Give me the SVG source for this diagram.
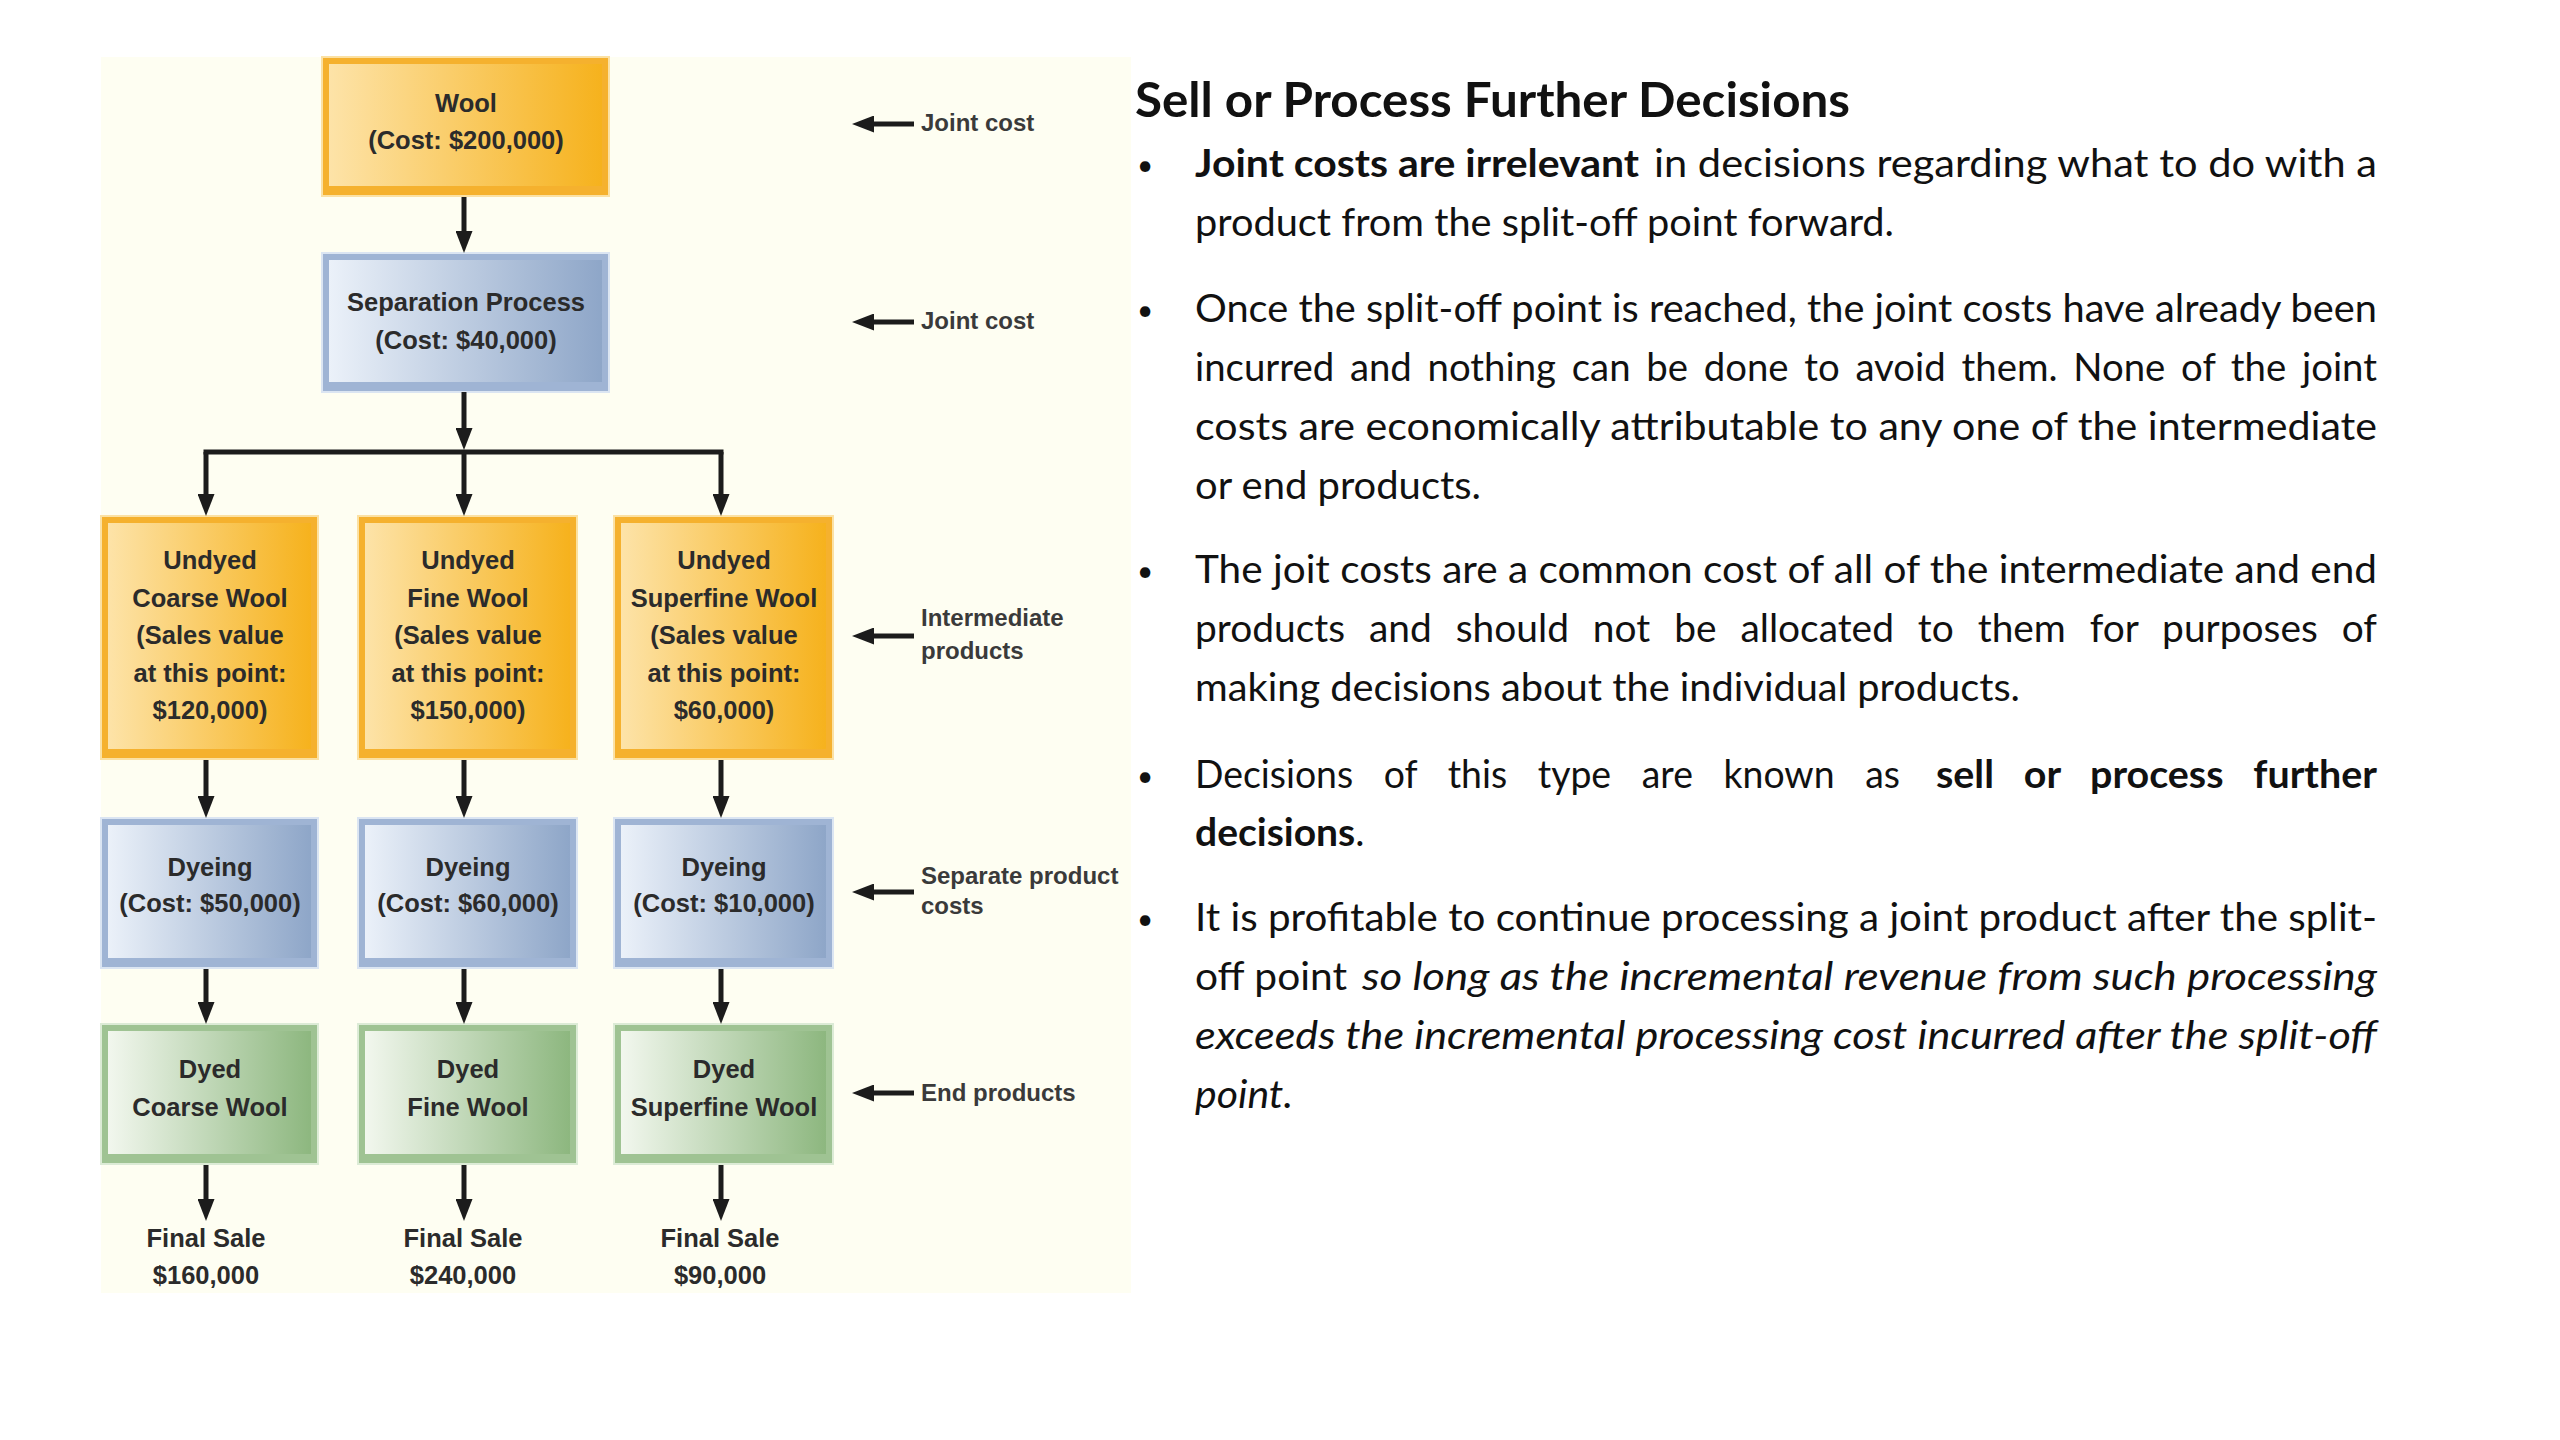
<svg xmlns="http://www.w3.org/2000/svg" width="2560" height="1440" viewBox="0 0 2560 1440">
<defs>
<linearGradient id="gO" x1="0" y1="0" x2="1" y2="0"><stop offset="0" stop-color="#fde3a8"/><stop offset="1" stop-color="#f6b21d"/></linearGradient>
<linearGradient id="gB" x1="0" y1="0" x2="1" y2="0"><stop offset="0" stop-color="#ebf1f9"/><stop offset="1" stop-color="#8ea6c8"/></linearGradient>
<linearGradient id="gG" x1="0" y1="0" x2="1" y2="0"><stop offset="0" stop-color="#f2f7ee"/><stop offset="1" stop-color="#8db77f"/></linearGradient>
<marker id="ah" viewBox="0 0 10 10" refX="5" refY="5" markerWidth="22" markerHeight="17" markerUnits="userSpaceOnUse" orient="auto" preserveAspectRatio="none"><path d="M0,0 L10,5 L0,10 z" fill="#1c1c1c"/></marker>
<style>
.fo{fill:#f5b12e;stroke:#fbe1a4;stroke-width:2}
.io{fill:url(#gO)}
.fb{fill:#9fb4d4;stroke:#dbe5f2;stroke-width:2}
.ib{fill:url(#gB)}
.fg{fill:#9fc393;stroke:#dcebd6;stroke-width:2}
.ig{fill:url(#gG)}
.bt{font-family:"Liberation Sans",Arial,sans-serif;font-weight:bold;font-size:25.5px;fill:#2b2b2b;text-anchor:middle}
.lb{font-family:"Liberation Sans",Arial,sans-serif;font-weight:bold;font-size:24px;fill:#3a3a3a}
.con{stroke:#1c1c1c;stroke-width:5;fill:none}
.arr{marker-end:url(#ah)}
.tx{font-family:Lato,"Open Sans",sans-serif;font-size:39px;fill:#111}
.bu{font-family:Lato,"Open Sans",sans-serif;font-size:28px;fill:#111}
.ttl{font-family:Lato,"Open Sans",sans-serif;font-size:48px;font-weight:bold;fill:#111}
.b{font-weight:bold}
.i{font-style:italic}
</style>
</defs>
<rect x="0" y="0" width="2560" height="1440" fill="#ffffff"/>
<rect x="101" y="57" width="1030" height="1236" fill="#fefef2"/>

<g id="n-wool">
<rect class="fo" x="322" y="57" width="287" height="139"/>
<rect class="io" x="329" y="64" width="273" height="122"/>
<text class="bt" x="466" y="112">Wool</text>
<text class="bt" x="466" y="149">(Cost: $200,000)</text>
</g>
<g id="n-separation">
<rect class="fb" x="322" y="253" width="287" height="139"/>
<rect class="ib" x="329" y="260" width="273" height="122"/>
<text class="bt" x="466" y="311">Separation Process</text>
<text class="bt" x="466" y="349">(Cost: $40,000)</text>
</g>

<g id="n-undyed-coarse">
<rect class="fo" x="101" y="516" width="217" height="243"/>
<rect class="io" x="108" y="523" width="203" height="226"/>
<text class="bt" x="210" y="569">Undyed</text>
<text class="bt" x="210" y="607">Coarse Wool</text>
<text class="bt" x="210" y="644">(Sales value</text>
<text class="bt" x="210" y="682">at this point:</text>
<text class="bt" x="210" y="719">$120,000)</text>
</g>
<g id="n-undyed-fine">
<rect class="fo" x="358" y="516" width="219" height="243"/>
<rect class="io" x="365" y="523" width="205" height="226"/>
<text class="bt" x="468" y="569">Undyed</text>
<text class="bt" x="468" y="607">Fine Wool</text>
<text class="bt" x="468" y="644">(Sales value</text>
<text class="bt" x="468" y="682">at this point:</text>
<text class="bt" x="468" y="719">$150,000)</text>
</g>
<g id="n-undyed-superfine">
<rect class="fo" x="614" y="516" width="219" height="243"/>
<rect class="io" x="621" y="523" width="205" height="226"/>
<text class="bt" x="724" y="569">Undyed</text>
<text class="bt" x="724" y="607">Superfine Wool</text>
<text class="bt" x="724" y="644">(Sales value</text>
<text class="bt" x="724" y="682">at this point:</text>
<text class="bt" x="724" y="719">$60,000)</text>
</g>

<g id="n-dyeing-coarse">
<rect class="fb" x="101" y="818" width="217" height="150"/>
<rect class="ib" x="108" y="825" width="203" height="133"/>
<text class="bt" x="210" y="876">Dyeing</text>
<text class="bt" x="210" y="912">(Cost: $50,000)</text>
</g>
<g id="n-dyeing-fine">
<rect class="fb" x="358" y="818" width="219" height="150"/>
<rect class="ib" x="365" y="825" width="205" height="133"/>
<text class="bt" x="468" y="876">Dyeing</text>
<text class="bt" x="468" y="912">(Cost: $60,000)</text>
</g>
<g id="n-dyeing-superfine">
<rect class="fb" x="614" y="818" width="219" height="150"/>
<rect class="ib" x="621" y="825" width="205" height="133"/>
<text class="bt" x="724" y="876">Dyeing</text>
<text class="bt" x="724" y="912">(Cost: $10,000)</text>
</g>

<g id="n-dyed-coarse">
<rect class="fg" x="101" y="1024" width="217" height="140"/>
<rect class="ig" x="108" y="1031" width="203" height="123"/>
<text class="bt" x="210" y="1078">Dyed</text>
<text class="bt" x="210" y="1116">Coarse Wool</text>
</g>
<g id="n-dyed-fine">
<rect class="fg" x="358" y="1024" width="219" height="140"/>
<rect class="ig" x="365" y="1031" width="205" height="123"/>
<text class="bt" x="468" y="1078">Dyed</text>
<text class="bt" x="468" y="1116">Fine Wool</text>
</g>
<g id="n-dyed-superfine">
<rect class="fg" x="614" y="1024" width="219" height="140"/>
<rect class="ig" x="621" y="1031" width="205" height="123"/>
<text class="bt" x="724" y="1078">Dyed</text>
<text class="bt" x="724" y="1116">Superfine Wool</text>
</g>

<g id="n-final-coarse"><text class="bt" x="206" y="1247">Final Sale</text><text class="bt" x="206" y="1284">$160,000</text></g>
<g id="n-final-fine"><text class="bt" x="463" y="1247">Final Sale</text><text class="bt" x="463" y="1284">$240,000</text></g>
<g id="n-final-superfine"><text class="bt" x="720" y="1247">Final Sale</text><text class="bt" x="720" y="1284">$90,000</text></g>

<g id="labels">
<text class="lb" x="921" y="131">Joint cost</text>
<text class="lb" x="921" y="329">Joint cost</text>
<text class="lb" x="921" y="626">Intermediate</text>
<text class="lb" x="921" y="659">products</text>
<text class="lb" x="921" y="884">Separate product</text>
<text class="lb" x="921" y="914">costs</text>
<text class="lb" x="921" y="1101">End products</text>
</g>

<g id="connectors">
<path class="con arr" d="M464,197 V242"/>
<path class="con arr" d="M464,392 V439"/>
<path class="con" d="M206,452 H721" stroke-linecap="square"/>
<path class="con arr" d="M206,452 V505"/>
<path class="con arr" d="M464,452 V505"/>
<path class="con arr" d="M721,452 V505"/>
<path class="con arr" d="M206,760 V807"/>
<path class="con arr" d="M464,760 V807"/>
<path class="con arr" d="M721,760 V807"/>
<path class="con arr" d="M206,969 V1013"/>
<path class="con arr" d="M464,969 V1013"/>
<path class="con arr" d="M721,969 V1013"/>
<path class="con arr" d="M206,1165 V1210"/>
<path class="con arr" d="M464,1165 V1210"/>
<path class="con arr" d="M721,1165 V1210"/>
<path class="con arr" d="M914,124 H863"/>
<path class="con arr" d="M914,322 H863"/>
<path class="con arr" d="M914,636 H863"/>
<path class="con arr" d="M914,892 H863"/>
<path class="con arr" d="M914,1093 H863"/>
</g>

<g id="text-panel">
<text class="ttl" x="1135" y="117" textLength="715" lengthAdjust="spacingAndGlyphs">Sell or Process Further Decisions</text>
<text class="bu" x="1137" y="175">•</text>
<text class="bu" x="1137" y="320">•</text>
<text class="bu" x="1137" y="581">•</text>
<text class="bu" x="1137" y="786">•</text>
<text class="bu" x="1137" y="929">•</text>
<text class="tx b" x="1195" y="177" textLength="444" lengthAdjust="spacingAndGlyphs">Joint costs are irrelevant</text>
<text class="tx" x="1654" y="177" textLength="723" lengthAdjust="spacingAndGlyphs">in decisions regarding what to do with a</text>
<text class="tx" x="1195" y="236" textLength="699" lengthAdjust="spacingAndGlyphs">product from the split-off point forward.</text>
<text class="tx" x="1195" y="322" textLength="1182" lengthAdjust="spacingAndGlyphs">Once the split-off point is reached, the joint costs have already been</text>
<text class="tx" x="1195" y="381" textLength="1182" lengthAdjust="spacingAndGlyphs" word-spacing="6">incurred and nothing can be done to avoid them.  None of the joint</text>
<text class="tx" x="1195" y="440" textLength="1182" lengthAdjust="spacingAndGlyphs">costs are economically attributable to any one of the intermediate</text>
<text class="tx" x="1195" y="499" textLength="286" lengthAdjust="spacingAndGlyphs">or end products.</text>
<text class="tx" x="1195" y="583" textLength="1182" lengthAdjust="spacingAndGlyphs">The joit costs are a common cost of all of the intermediate and end</text>
<text class="tx" x="1195" y="642" textLength="1182" lengthAdjust="spacingAndGlyphs" word-spacing="14">products and should not be allocated to them for purposes of</text>
<text class="tx" x="1195" y="701" textLength="825" lengthAdjust="spacingAndGlyphs">making decisions about the individual products.</text>
<text class="tx" x="1195" y="788" textLength="705" lengthAdjust="spacingAndGlyphs" word-spacing="22">Decisions of this type are known as</text>
<text class="tx b" x="1936" y="788" textLength="441" lengthAdjust="spacingAndGlyphs" word-spacing="20">sell or process further</text>
<text class="tx" x="1195" y="846"><tspan class="b">decisions</tspan>.</text>
<text class="tx" x="1195" y="931" textLength="1182" lengthAdjust="spacingAndGlyphs">It is profitable to continue processing a joint product after the split-</text>
<text class="tx" x="1195" y="990" textLength="152" lengthAdjust="spacingAndGlyphs">off point</text>
<text class="tx i" x="1362" y="990" textLength="1015" lengthAdjust="spacingAndGlyphs">so long as the incremental revenue from such processing</text>
<text class="tx i" x="1195" y="1049" textLength="1182" lengthAdjust="spacingAndGlyphs">exceeds the incremental processing cost incurred after the split-off</text>
<text class="tx i" x="1195" y="1108" textLength="98" lengthAdjust="spacingAndGlyphs">point.</text>
</g>
</svg>
